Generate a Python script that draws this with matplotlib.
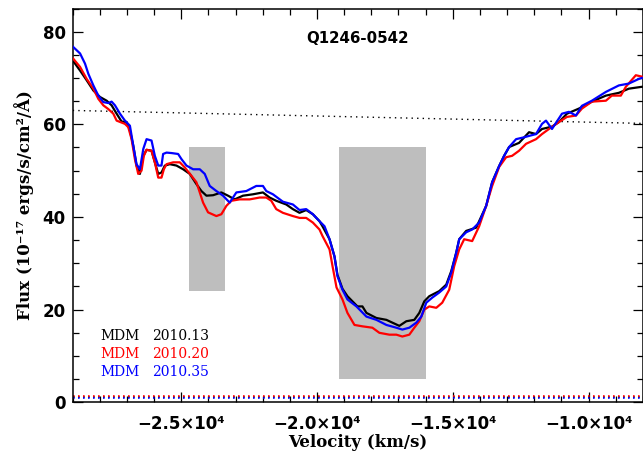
import matplotlib
matplotlib.use("Agg")
import matplotlib.pyplot as plt
from matplotlib.ticker import MultipleLocator, FuncFormatter

# ---------------- data ----------------
vel_black = [-29000, -28730, -28485, -28240, -27995, -27750, -27567, -27383, -27200, -27015,
             -26893, -26770, -26650, -26525, -26400, -26280, -26097, -25975, -25850, -25730,
             -25607, -25423, -25178, -24933, -24688, -24443, -24260, -24075, -23830, -23524,
             -23280, -23035, -22728, -22360, -21993, -21748, -21503, -21135, -20890, -20645,
             -20400, -20155, -19910, -19800, -19540, -19358, -19247, -19063, -18880, -18512,
             -18328, -18181, -17814, -17446, -17226, -16969, -16711, -16417, -16233, -16049,
             -15866, -15498, -15241, -15057, -14873, -14763, -14506, -14138, -13770, -13550,
             -13292, -13109, -12925, -12558, -12190, -11933, -11713, -11345, -11088, -10794,
             -10353, -9875, -9360, -8882, -8514, -8037]
flux_black = [73.8, 71.6, 69.5, 67.3, 65.9, 65.1, 64.1, 62.3, 60.6, 60.5,
              58.7, 55.4, 51.1, 49.3, 53.2, 54.5, 54.3, 51.8, 49.3, 49.6,
              51.1, 51.4, 51.1, 50.3, 49.3, 47.1, 45.6, 44.6, 44.7, 45.3,
              44.6, 43.8, 44.6, 44.9, 45.3, 44.2, 43.5, 42.7, 41.7, 40.9,
              41.5, 40.6, 39.1, 38.0, 35.2, 31.5, 27.5, 24.5, 22.9, 20.7,
              20.7, 19.3, 18.2, 17.8, 17.2, 16.5, 17.5, 17.8, 19.3, 21.8,
              22.9, 24.0, 25.4, 28.3, 32.3, 35.2, 37.0, 37.7, 42.4, 47.5,
              51.0, 53.2, 55.1, 56.0, 58.3, 57.9, 59.0, 59.5, 60.5, 62.3,
              63.4, 64.9, 66.2, 66.8, 67.7, 68.1]

vel_red = [-29000, -28730, -28485, -28240, -28057, -27873, -27690, -27505, -27383, -27077,
           -26955, -26832, -26710, -26587, -26465, -26380, -26280, -26097, -25975, -25850,
           -25730, -25643, -25545, -25300, -25055, -24872, -24627, -24443, -24320, -24198,
           -24015, -23708, -23524, -23340, -23157, -22850, -22483, -22115, -21870, -21687,
           -21503, -21258, -20890, -20645, -20400, -20155, -19910, -19800, -19540, -19430,
           -19283, -19063, -18880, -18622, -18328, -17961, -17704, -17336, -17078, -16858,
           -16601, -16417, -16233, -16049, -15866, -15608, -15388, -15131, -14947, -14763,
           -14580, -14285, -14028, -13770, -13550, -13292, -13035, -12815, -12558, -12300,
           -11933, -11713, -11456, -11088, -10794, -10463, -10242, -9875, -9360, -9140,
           -8809, -8625, -8257, -8037]
flux_red = [74.3, 72.4, 69.8, 67.7, 65.5, 64.1, 63.3, 62.3, 60.8, 60.1,
            59.4, 56.8, 52.5, 49.3, 50.0, 53.2, 54.5, 54.3, 51.8, 48.5,
            48.5, 50.3, 51.4, 51.8, 51.8, 50.7, 48.9, 47.5, 45.3, 43.1,
            41.0, 40.2, 40.6, 42.4, 43.5, 43.8, 43.8, 44.2, 44.2, 43.5,
            41.7, 40.9, 40.2, 39.8, 39.8, 38.8, 37.3, 35.9, 33.0, 29.4,
            24.8, 22.2, 19.3, 16.7, 16.4, 16.1, 15.0, 14.6, 14.6, 14.2,
            14.6, 16.1, 17.5, 20.0, 20.7, 20.4, 21.5, 24.3, 29.4, 33.0,
            35.2, 34.8, 38.0, 42.4, 46.7, 50.8, 52.9, 53.2, 54.3, 55.8,
            56.8, 57.9, 59.0, 60.5, 61.6, 61.9, 63.4, 64.9, 65.1, 66.2,
            66.2, 68.1, 70.6, 70.3]

vel_blue = [-29000, -28730, -28547, -28424, -28240, -28057, -27873, -27690, -27567, -27444,
            -27260, -27077, -26893, -26770, -26650, -26525, -26400, -26280, -26097, -25975,
            -25850, -25730, -25670, -25545, -25360, -25117, -24995, -24810, -24565, -24320,
            -24137, -23953, -23708, -23463, -23218, -22973, -22605, -22238, -21993, -21870,
            -21625, -21258, -20890, -20645, -20400, -20155, -19910, -19725, -19540, -19358,
            -19247, -19063, -18880, -18549, -18181, -17814, -17446, -17078, -16858, -16601,
            -16343, -16160, -15976, -15755, -15498, -15241, -15057, -14873, -14763, -14506,
            -14285, -14028, -13770, -13550, -13292, -13109, -12925, -12668, -12374, -12190,
            -11933, -11713, -11566, -11345, -10977, -10720, -10463, -10242, -9875, -9360,
            -8882, -8514, -8147, -8037]
flux_blue = [76.8, 75.3, 73.1, 70.9, 68.4, 66.2, 64.8, 64.6, 64.9, 64.1,
             62.3, 60.8, 59.7, 55.4, 51.4, 50.3, 54.7, 56.8, 56.5, 53.2,
             51.1, 51.1, 53.6, 53.9, 53.8, 53.6, 52.5, 51.1, 50.3, 50.3,
             49.3, 46.7, 45.6, 44.6, 43.1, 45.3, 45.6, 46.7, 46.7, 45.6,
             44.9, 43.3, 42.7, 41.5, 41.7, 40.6, 39.1, 38.0, 35.2, 31.5,
             27.2, 24.3, 22.2, 20.7, 18.5, 17.8, 16.7, 16.1, 15.7, 16.1,
             17.2, 18.5, 21.5, 22.6, 23.7, 25.0, 28.0, 32.3, 35.2, 36.7,
             37.3, 38.8, 42.4, 47.5, 51.0, 53.2, 55.1, 56.8, 57.2, 57.5,
             57.9, 60.1, 60.8, 59.0, 62.3, 62.7, 61.9, 64.0, 65.1, 67.0,
             68.4, 68.8, 69.8, 70.0]

continuum_vel = [-29000, -8000]
continuum_flux = [63.0, 60.2]

error_level = {"black": 1.1, "red": 1.35, "blue": 1.0}

boxes = [  # (v_start, v_end, flux_low, flux_high)
    (-24700, -23400, 24.0, 55.0),
    (-19200, -16000, 5.0, 55.0),
]

legend_inst = ["MDM", "MDM", "MDM"]
legend_epoch = ["2010.13", "2010.20", "2010.35"]
colors = ["black", "red", "blue"]

title = "Q1246-0542"
xlabel = "Velocity (km/s)"
ylabel = "Flux (10\u207b\u00b9\u2077 ergs/s/cm\u00b2/\u00c5)"

# ---------------- figure ----------------
fig = plt.figure(figsize=(6.43, 4.55), dpi=100)
ax = fig.add_axes([0.1131, 0.1158, 0.8866, 0.8655])

for (v0, v1, f0, f1) in boxes:
    ax.fill_between([v0, v1], [f0, f0], [f1, f1], color="#bebebe", lw=0, zorder=1)

ax.plot(continuum_vel, continuum_flux, color="black", lw=1.0,
        linestyle=(0, (1, 3)), zorder=2)

for c in colors:
    ax.plot([-29000, -8000], [error_level[c]] * 2, color=c, lw=1.2,
            linestyle=(0, (1.0, 2.0)), zorder=2)

ax.plot(vel_black, flux_black, color="black", lw=1.6, zorder=3)
ax.plot(vel_red, flux_red, color="red", lw=1.6, zorder=4)
ax.plot(vel_blue, flux_blue, color="blue", lw=1.6, zorder=5)

ax.set_xlim(-29000, -8000)
ax.set_ylim(0, 85)

ax.xaxis.set_major_locator(MultipleLocator(5000))
ax.xaxis.set_minor_locator(MultipleLocator(1000))
ax.yaxis.set_major_locator(MultipleLocator(20))
ax.yaxis.set_minor_locator(MultipleLocator(5))

def xfmt(v, pos):
    return "\u2212%.1f\u00d710\u2074" % (abs(v) / 1e4)

ax.xaxis.set_major_formatter(FuncFormatter(xfmt))
ax.yaxis.set_major_formatter(FuncFormatter(lambda v, p: "%d" % v))

ax.tick_params(which="both", direction="in", top=True, right=True, width=0.9)
ax.tick_params(which="major", length=7.5)
ax.tick_params(which="minor", length=4)
ax.tick_params(axis="x", which="major", pad=9, labelsize=12)
ax.tick_params(axis="y", which="major", pad=5, labelsize=12)
for lab in ax.get_xticklabels() + ax.get_yticklabels():
    lab.set_fontweight("bold")
for s in ax.spines.values():
    s.set_linewidth(1.1)

ax.text(0.499, 0.925, title, transform=ax.transAxes, ha="center", va="center",
        fontsize=10.8, fontweight="bold", family="DejaVu Sans")

ax.set_xlabel(xlabel, fontsize=12, family="DejaVu Serif", fontweight="bold", labelpad=1)
ax.set_ylabel(ylabel, fontsize=12, family="DejaVu Serif", fontweight="bold", labelpad=6)

ys = [336, 354, 372]
for inst, ep, c, ypix in zip(legend_inst, legend_epoch, colors, ys):
    yf = 1 - ypix / 455
    fig.text(100 / 643, yf, inst, color=c, fontsize=10, family="DejaVu Serif",
             ha="left", va="center")
    fig.text(152 / 643, yf, ep, color=c, fontsize=10, family="DejaVu Serif",
             ha="left", va="center")

fig.savefig("out.png", dpi=100)
